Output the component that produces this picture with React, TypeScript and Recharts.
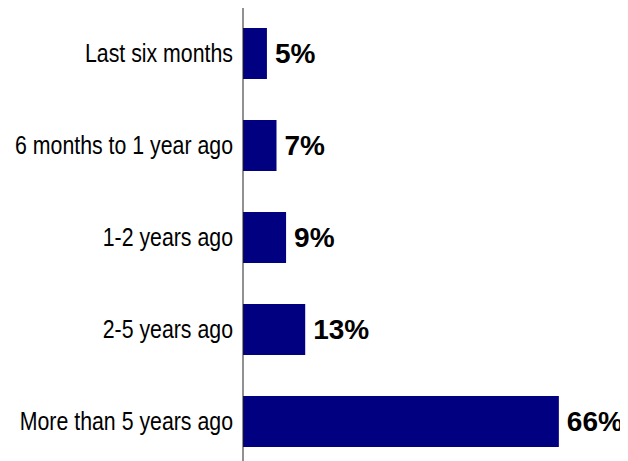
import { Bar, BarChart, LabelList, XAxis, YAxis } from 'recharts'

const categories = [
  'Last six months',
  '6 months to 1 year ago',
  '1-2 years ago',
  '2-5 years ago',
  'More than 5 years ago',
]
const shares = [5, 7, 9, 13, 66]

const data = categories.map((period, i) => ({ period, share: shares[i] }))

// the source font is a narrow sans, so squeeze Liberation Sans horizontally
function PeriodTick({ x, y, payload }: { x?: number; y?: number; payload?: { value: string } }) {
  return (
    <g transform={`translate(${x},${y})`}>
      <text
        x={0}
        y={0}
        dy="0.36em"
        transform="scale(0.82,1)"
        textAnchor="end"
        fill="#000"
        fontSize={26}
        fontFamily="'Liberation Sans', Arial, sans-serif"
      >
        {payload?.value}
      </text>
    </g>
  )
}

export default function App() {
  return (
    <div style={{ margin: '-8px 0 0 -8px', background: '#fff' }}>
      <BarChart
        width={628}
        height={470}
        data={data}
        layout="vertical"
        margin={{ top: 7, right: 50, left: 0, bottom: 3 }}
      >
        <XAxis type="number" domain={[0, 70]} hide />
        <YAxis
          type="category"
          dataKey="period"
          width={243}
          tick={<PeriodTick />}
          tickLine={false}
          tickSize={0}
          tickMargin={10}
          axisLine={{ stroke: '#222', strokeWidth: 1 }}
        />
        <Bar dataKey="share" fill="#000080" barSize={51} isAnimationActive={false}>
          <LabelList
            dataKey="share"
            position="right"
            offset={8}
            formatter={(v: number) => `${v}%`}
            fill="#000"
            fontSize={28}
            fontWeight="bold"
            fontFamily="'Liberation Sans', Arial, sans-serif"
          />
        </Bar>
      </BarChart>
    </div>
  )
}
